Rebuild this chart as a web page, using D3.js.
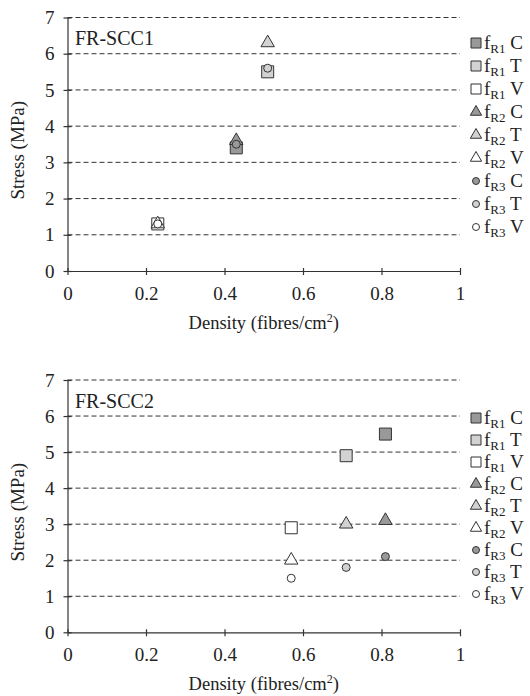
<!DOCTYPE html>
<html>
<head>
<meta charset="utf-8">
<script src="https://cdn.jsdelivr.net/npm/d3@7"></script>
<style>
  body { margin: 0; background: #fff; }
  svg text { font-family: "Liberation Serif", "DejaVu Serif", serif; fill: #222; }
</style>
</head>
<body>
<svg id="chart" width="530" height="696"></svg>
<script>
// categories of the test (C, T, V) and residual strength parameters
const categories = ["C", "T", "V"];
const params = ["R1", "R2", "R3"];

// FR-SCC1: density per category, stress per parameter (order C, T, V)
const scc1Density = [0.43, 0.51, 0.23];
const scc1FR1 = [3.4, 5.5, 1.3];
const scc1FR2 = [3.6, 6.3, 1.3];
const scc1FR3 = [3.5, 5.6, 1.3];

// FR-SCC2
const scc2Density = [0.81, 0.71, 0.57];
const scc2FR1 = [5.5, 4.9, 2.9];
const scc2FR2 = [3.1, 3.0, 2.0];
const scc2FR3 = [2.1, 1.8, 1.5];

const xTicks = [0, 0.2, 0.4, 0.6, 0.8, 1];
const yTicks = [0, 1, 2, 3, 4, 5, 6, 7];

const fills = { C: "#999999", T: "#d2d2d2", V: "#ffffff" };
const shapes = { R1: "square", R2: "triangle", R3: "circle" };

const svg = d3.select("#chart");

function marker(g, shape, x, y, fill, big) {
    let el;
    if (shape === "circle") {
        el = g.append("circle").attr("cx", x).attr("cy", y).attr("r", big ? 4 : 3.5);
    } else {
        const type = shape === "square" ? d3.symbolSquare : d3.symbolTriangle;
        const size = shape === "square" ? (big ? 144 : 100) : (big ? 78 : 55);
        el = g.append("path")
            .attr("d", d3.symbol().type(type).size(size)())
            .attr("transform", `translate(${x},${y})`);
    }
    el.attr("fill", fill).attr("stroke", "#333").attr("stroke-width", 1);
}

function panel(top, bottom, label, density, series, legTop, legStep) {
    const x = d3.scaleLinear().domain([0, 1]).range([67.5, 460]);
    const y = d3.scaleLinear().domain([0, 7]).range([bottom, top]);
    const g = svg.append("g");

    // dashed grid lines
    g.selectAll(".grid")
        .data(yTicks.slice(1))
        .enter().append("line")
        .attr("x1", x(0)).attr("x2", x(1))
        .attr("y1", d => y(d)).attr("y2", d => y(d))
        .attr("stroke", "#333")
        .attr("stroke-width", 1)
        .attr("stroke-dasharray", "5,3");

    // axes, ticks cross the axis line
    const xAxis = g.append("g")
        .attr("transform", `translate(0,${bottom})`)
        .attr("font-family", "Liberation Serif")
        .call(d3.axisBottom(x).tickValues(xTicks).tickSize(4).tickSizeOuter(0)
            .tickFormat(d3.format("~g")));
    xAxis.selectAll(".tick line").attr("y1", -3);
    xAxis.selectAll(".tick text").attr("dy", null).attr("y", 29)
        .style("font-size", "19px");

    const yAxis = g.append("g")
        .attr("transform", `translate(${x(0)},0)`)
        .attr("font-family", "Liberation Serif")
        .call(d3.axisLeft(y).tickValues(yTicks).tickSize(4).tickSizeOuter(0)
            .tickFormat(d3.format("d")));
    yAxis.selectAll(".tick line").attr("x1", 4);
    yAxis.selectAll(".tick text").attr("x", -13)
        .style("font-size", "19px");
    g.selectAll(".domain, .tick line").attr("stroke", "#333").attr("stroke-width", 1.2);

    // axis titles
    const xt = g.append("text")
        .attr("x", (x(0) + x(1)) / 2)
        .attr("y", bottom + 58)
        .attr("text-anchor", "middle")
        .style("font-size", "18.5px");
    xt.append("tspan").text("Density (fibres/cm");
    xt.append("tspan").attr("dy", -7).style("font-size", "12px").text("2");
    xt.append("tspan").attr("dy", 7).text(")");

    g.append("text")
        .attr("transform", `translate(24,${(top + bottom) / 2 + 6}) rotate(-90)`)
        .attr("text-anchor", "middle")
        .style("font-size", "19px")
        .text("Stress (MPa)");

    // panel label
    g.append("text")
        .attr("x", 75).attr("y", top + 27.5)
        .style("font-size", "20px")
        .text(label);

    // points: squares, then triangles, then circles
    params.forEach((p, pi) => {
        categories.forEach((c, ci) => {
            marker(g, shapes[p], x(density[ci]), y(series[pi][ci]), fills[c], true);
        });
    });

    // legend
    const legend = g.append("g").attr("class", "legend");
    let row = 0;
    params.forEach(p => {
        categories.forEach(c => {
            const ly = legTop + row * legStep;
            marker(legend, shapes[p], 476, ly, fills[c], false);
            const t = legend.append("text")
                .attr("x", 484).attr("y", ly + 6)
                .style("font-size", "19px");
            t.append("tspan").text("f");
            t.append("tspan").attr("dy", 4).style("font-size", "13px").text(p);
            t.append("tspan").attr("dy", -4).text(" " + c);
            row++;
        });
    });
}

panel(17.5, 271, "FR-SCC1", scc1Density, [scc1FR1, scc1FR2, scc1FR3], 43, 23);
panel(380, 632.3, "FR-SCC2", scc2Density, [scc2FR1, scc2FR2, scc2FR3], 418, 22);
</script>
</body>
</html>
